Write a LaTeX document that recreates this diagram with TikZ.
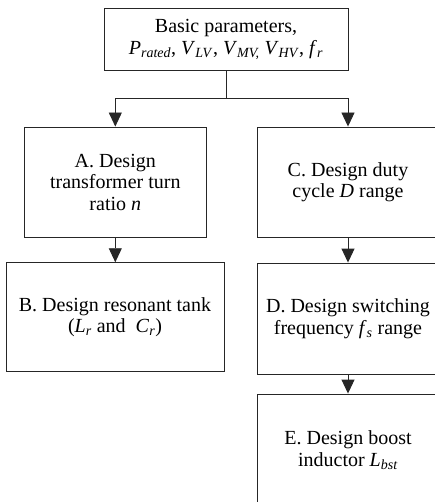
\documentclass[tikz,border=0pt]{standalone}
\usepackage{fontspec}
\setmainfont{Liberation Serif}
\usetikzlibrary{arrows.meta}
\newcommand{\vsb}[2]{\textit{#1}\textsubscript{\textit{#2}}}
\tikzset{
  box/.style={draw=black!85, line width=0.9pt, align=center, inner sep=0pt,
    font=\fontsize{20}{21.5}\selectfont},
  arr/.style={draw=black!85, line width=0.9pt, -{Triangle[width=13pt,length=14pt]}},
  ln/.style={draw=black!85, line width=0.9pt}
}
\begin{document}
\begin{tikzpicture}[x=1pt,y=-1pt]
\path[use as bounding box, clip] (0,0) rectangle (435,502);
\node[box, minimum width=244pt, minimum height=62pt] (top) at (226,39.7)
  {Basic parameters,\\ \vsb{P}{rated}, \vsb{V}{LV}, \vsb{V}{MV,} \vsb{V}{HV}, \vsb{f}{r}};
\node[box, minimum width=182.7pt, minimum height=110pt] (A) at (115.3,182)
  {A. Design\\ transformer turn\\ ratio \textit{n}};
\node[box, minimum width=218pt, minimum height=109pt] (B) at (115,317.2)
  {B. Design resonant tank\\ (\vsb{L}{r} and\ \ \vsb{C}{r})};
\node[box, minimum width=182pt, minimum height=110pt] (C) at (348,182)
  {C. Design duty\\ cycle \textit{D} range};
\node[box, minimum width=182pt, minimum height=111pt] (D) at (348,318.5)
  {D. Design switching\\ frequency \vsb{f}{s} range};
\node[box, minimum width=182pt, minimum height=112pt] (E) at (348,450)
  {E. Design boost\\ inductor \vsb{L}{bst}};
\coordinate (j) at (226,98.3);
\draw[ln] (top.south) -- (j);
\draw[arr] (j) -| (A.north);
\draw[arr] (j) -| (C.north);
\draw[arr] (A.south) -- (A.south |- B.north);
\draw[arr] (C.south) -- (D.north);
\draw[arr] (D.south) -- (E.north);
\end{tikzpicture}
\end{document}
